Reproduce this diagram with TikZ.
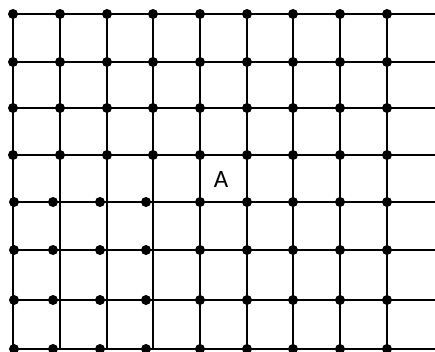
\documentclass[tikz,border=0pt]{standalone}
\usepackage{fontspec}
\setmainfont{Carlito}
\begin{document}
\begin{tikzpicture}[
  x=1pt, y=-1pt,
  gridline/.style={line width=1.8pt, black},
  dot/.style={fill=black}
]
\useasboundingbox (0,0) rectangle (435,351);
% grid lines
\foreach \y in {14,62,108,155,202,250,300,349}
  \draw[gridline] (13,\y) -- (435,\y);
\foreach \x in {13,60,107,153,200,247,293,340,387}
  \draw[gridline] (\x,14) -- (\x,349);
% dots on the upper rows
\foreach \y in {14,62,108,155}
  \foreach \x in {13,60,107,153,200,247,293,340,387}
    \fill[dot] (\x,\y) circle[radius=5pt];
% dots on the lower rows
\foreach \y in {202,250,300,349}
  \foreach \x in {14,53,100,146,200,247,293,340,387}
    \fill[dot] (\x,\y) circle[radius=5pt];
\node[font=\fontsize{25}{25}\selectfont, inner sep=0pt] (a) at (221,179) {A};
\end{tikzpicture}
\end{document}
